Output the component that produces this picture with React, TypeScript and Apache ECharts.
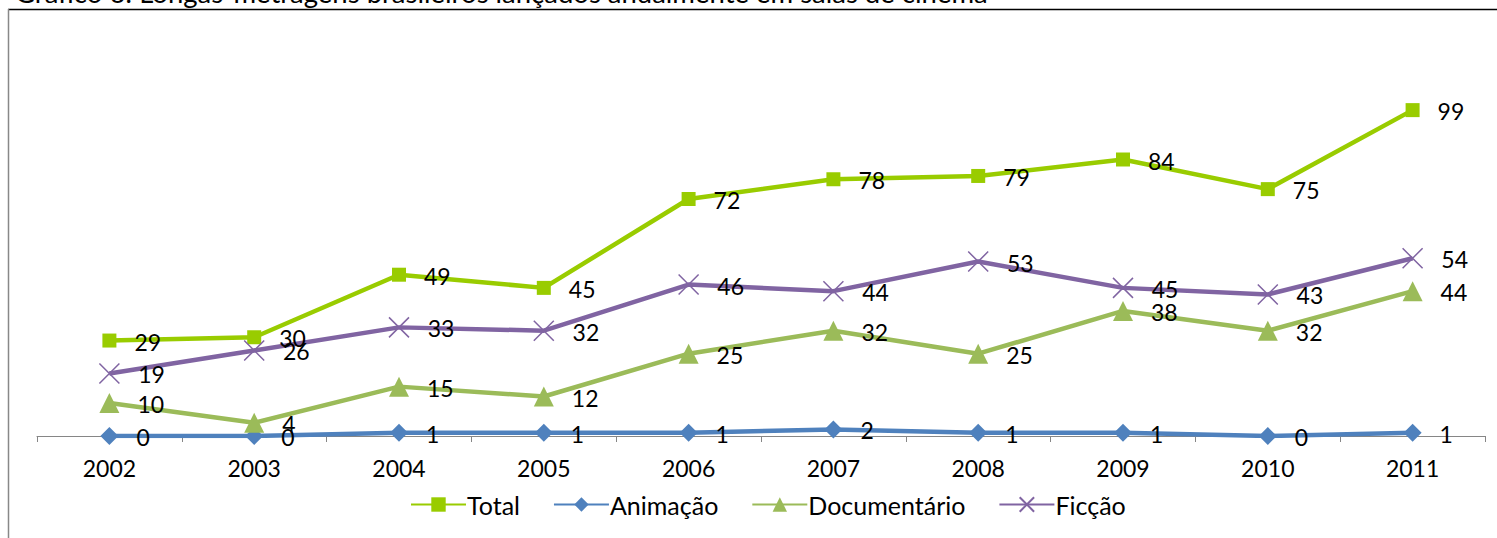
import React, { useEffect, useRef } from "react";
import * as echarts from "echarts";

const years = ["2002", "2003", "2004", "2005", "2006", "2007", "2008", "2009", "2010", "2011"];
const total = [29, 30, 49, 45, 72, 78, 79, 84, 75, 99];
const animacao = [0, 0, 1, 1, 1, 2, 1, 1, 0, 1];
const documentario = [10, 4, 15, 12, 25, 32, 25, 38, 32, 44];
const ficcao = [19, 26, 33, 32, 46, 44, 53, 45, 43, 54];

const FONT = "Lato, 'Open Sans', sans-serif";

function mkSeries(name: string, data: number[], color: string, symbol: string, size: number, extra: any = {}) {
  return {
    name,
    type: "line",
    data,
    symbol,
    symbolSize: size,
    lineStyle: { color, width: 4.5 },
    itemStyle: { color, ...extra },
    label: {
      show: true,
      position: "right",
      distance: 18,
      color: "#000",
      fontSize: 23,
      fontFamily: FONT,
      offset: [0, 1],
    },
    emphasis: { disabled: true },
  };
}

export default function App() {
  const ref = useRef<HTMLDivElement>(null);
  useEffect(() => {
    const chart = echarts.init(ref.current!, null, { renderer: "svg" });
    chart.setOption({
      animation: false,
      backgroundColor: "#fff",
      grid: { left: 37, right: 12, top: 41, bottom: 102 },
      xAxis: {
        type: "category",
        data: years,
        boundaryGap: true,
        axisLine: { lineStyle: { color: "#868686", width: 1 } },
        axisTick: { show: true, length: 6, inside: false, lineStyle: { color: "#868686" } },
        axisLabel: { color: "#000", fontSize: 23, fontFamily: FONT, margin: 20 },
        z: 0,
      },
      yAxis: {
        type: "value",
        min: 0,
        max: 120,
        interval: 20,
        show: false,
        splitLine: { show: false },
      },
      legend: {
        bottom: 16,
        left: 405,
        itemWidth: 55,
        itemHeight: 18,
        itemGap: 33,
        textStyle: { color: "#000", fontSize: 25, fontFamily: FONT, padding: [0, 0, 0, -4] },
        data: ["Total", "Animação", "Documentário", "Ficção"],
      },
      graphic: [
        {
          type: "text",
          left: 15,
          top: -22,
          style: {
            text: "Gráfico 6: Longas-metragens brasileiros lançados anualmente em salas de cinema",
            fontSize: 27.5,
            fontFamily: FONT,
            fill: "#000",
          },
        },
        { type: "line", shape: { x1: 8, y1: 9.5, x2: 1497, y2: 9.5 }, style: { stroke: "#000", lineWidth: 1.5 } },
        { type: "line", shape: { x1: 8.5, y1: 9, x2: 8.5, y2: 538 }, style: { stroke: "#888", lineWidth: 1.5 } },
      ],
      series: [
        mkSeries("Total", total, "#99CC00", "rect", 14),
        mkSeries("Animação", animacao, "#4F81BD", "diamond", 18),
        mkSeries("Documentário", documentario, "#9BBB59", "triangle", 20),
        mkSeries("Ficção", ficcao, "#8064A2", "path://M0,0L10,10M10,0L0,10", 20, {
          borderColor: "#8064A2",
          borderWidth: 1.5,
        }),
      ],
    });
    return () => chart.dispose();
  }, []);
  return <div ref={ref} style={{ position: "absolute", left: 0, top: 0, width: 1497, height: 538 }} />;
}
